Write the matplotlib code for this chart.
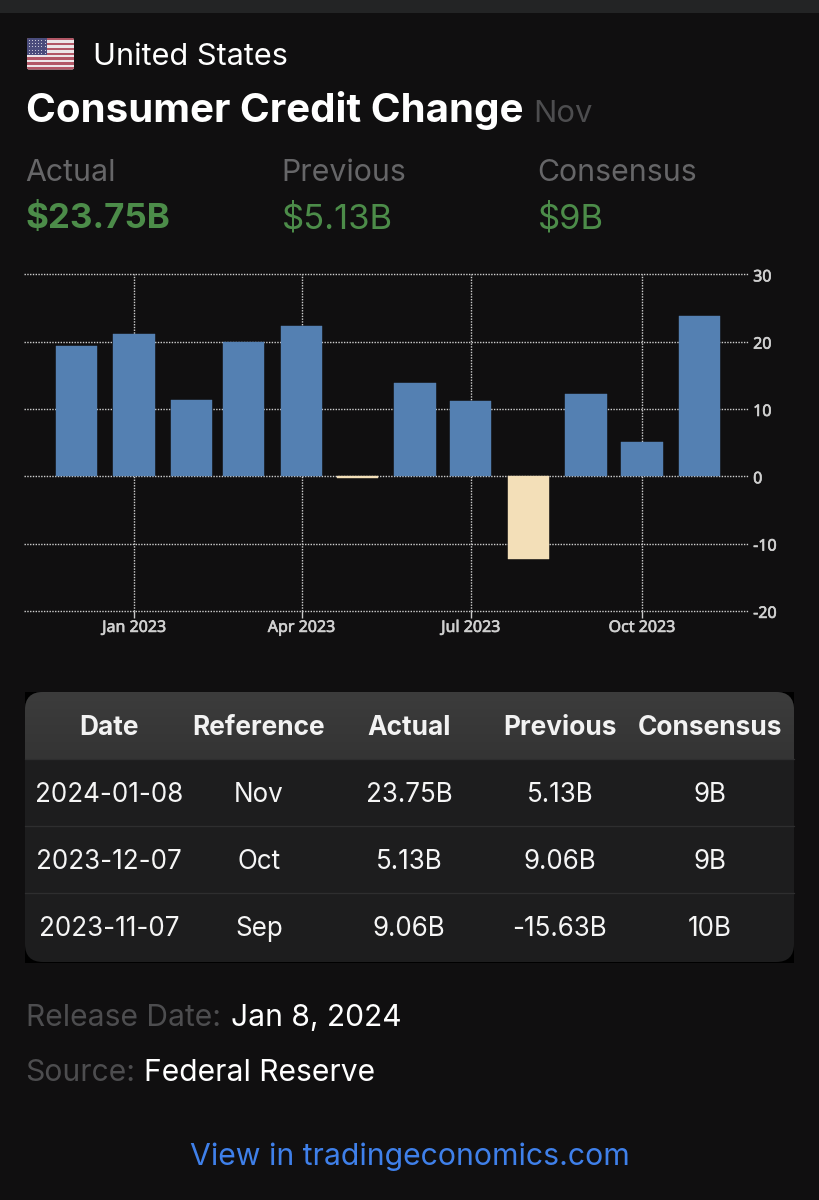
"""Consumer credit change card, dark phone screenshot style."""

import matplotlib
matplotlib.use("Agg")
import matplotlib.dates as mdates
import matplotlib.patheffects as pe
import matplotlib.pyplot as plt
import numpy as np
from matplotlib.patches import FancyBboxPatch, Rectangle
from matplotlib.transforms import ScaledTranslation

months = ["2022-12-01", "2023-01-01", "2023-02-01", "2023-03-01", "2023-04-01",
          "2023-05-01", "2023-06-01", "2023-07-01", "2023-08-01", "2023-09-01",
          "2023-10-01", "2023-11-01"]
changes = [19.4, 21.2, 11.4, 20.0, 22.4, -0.3, 13.9, 11.2, -12.3, 12.3, 5.13, 23.75]
tick_months = ["2023-01-01", "2023-04-01", "2023-07-01", "2023-10-01"]
tick_labels = ["Jan 2023", "Apr 2023", "Jul 2023", "Oct 2023"]
y_ticks = [-20, -10, 0, 10, 20, 30]

table_header = ["Date", "Reference", "Actual", "Previous", "Consensus"]
table_dates = ["2024-01-08", "2023-12-07", "2023-11-07"]
table_refs = ["Nov", "Oct", "Sep"]
table_actual = ["23.75B", "5.13B", "9.06B"]
table_previous = ["5.13B", "9.06B", "-15.63B"]
table_consensus = ["9B", "9B", "10B"]

BG = "#100f10"
W, H = 819, 1200
FONT = "Inter"

plt.rcParams["axes.unicode_minus"] = False


def px(size):
    # font size given in screen pixels
    return size * 72 / 100


fig = plt.figure(figsize=(W / 100, H / 100), dpi=100, facecolor=BG)

# page layer, in pixel coordinates
page = fig.add_axes([0, 0, 1, 1], zorder=0)
page.set_xlim(0, W)
page.set_ylim(H, 0)
page.axis("off")


def label(x, y, s, size, color="white", weight="normal", ha="left"):
    page.text(x, y, s, fontsize=px(size), color=color, fontweight=weight, ha=ha,
              va="baseline", family=FONT)


page.add_patch(Rectangle((0, 0), W, 13, color="#232425", lw=0))

# flag
flag = FancyBboxPatch((27, 38), 47, 31.5, boxstyle="round,pad=0,rounding_size=2",
                      fc="#ece6e8", ec="none")
page.add_patch(flag)
for i in range(7):
    stripe = Rectangle((27, 38 + i * 31.5 / 6.5), 47, 31.5 / 13, color="#b25766", lw=0)
    page.add_patch(stripe)
    stripe.set_clip_path(flag)
canton = Rectangle((27, 38), 20, 17, color="#4a4c7c", lw=0)
page.add_patch(canton)
canton.set_clip_path(flag)
for r in range(5):
    for c in range(6):
        page.plot(29 + c * 3.1, 40 + r * 3.2, ".", ms=1.6, mew=0, color="#d8d8e4")

label(93, 65, "United States", 30.7)
label(25.5, 122, "Consumer Credit Change", 40.3, weight="bold")
label(533, 122, "Nov", 31, color="#4d4d4f")

label(25, 181, "Actual", 30.3, color="#666668")
label(281, 181, "Previous", 30.3, color="#666668")
label(537.5, 181, "Consensus", 30.3, color="#666668")
label(25.5, 228, "$23.75B", 35, color="#4c8c49", weight="bold")
label(281.5, 228, "$5.13B", 34.6, color="#4c8c49")
label(537.5, 228, "$9B", 34.6, color="#4c8c49")

# table
page.add_patch(Rectangle((25, 692), 769, 271, color="#000000", lw=0))
card = FancyBboxPatch((25, 692), 769, 270, boxstyle="round,pad=0,rounding_size=18",
                      fc="#1d1d1e", ec="none")
page.add_patch(card)
head = page.imshow(np.linspace(0, 1, 67)[:, None], extent=(25, 794, 759, 692), aspect="auto",
                   cmap=matplotlib.colors.LinearSegmentedColormap.from_list(
                       "head", ["#3c3c3c", "#343434"]), zorder=2)
head.set_clip_path(card)
page.set_xlim(0, W)
page.set_ylim(H, 0)
for y in (759, 826, 893):
    page.plot([25, 794], [y, y], color="#2e2e2f", lw=0.9, zorder=3)

col_x = [109, 259, 409, 560, 710]
for x, s in zip(col_x, table_header):
    label(x, 735, s, 26.3, weight="bold", ha="center", color="#f2f2f2")
rows = zip(table_dates, table_refs, table_actual, table_previous, table_consensus)
for row_y, row in zip((802, 869, 936), rows):
    for x, s in zip(col_x, row):
        label(x, row_y, s, 26, ha="center", color="#f5f5f5")

label(25.5, 1026, "Release Date:", 30, color="#4d4d4f")
label(231, 1026, "Jan 8, 2024", 30)
label(25.5, 1081, "Source:", 30, color="#4d4d4f")
label(144, 1081, "Federal Reserve", 30)
label(409.5, 1165, "View in tradingeconomics.com", 30.2, color="#3f80ea", ha="center")

# chart
ax = fig.add_axes([24 / W, 1 - 610.9 / H, (749 - 24) / W, (610.9 - 274.4) / H], zorder=1)
ax.patch.set_alpha(0)
dates = mdates.datestr2num(months)
colors = ["#5480b2" if v >= 0 else "#f3dfb8" for v in changes]
ax.bar(dates, changes, width=22.2, color=colors, edgecolor=colors, linewidth=0.3, zorder=3)

jan = mdates.datestr2num("2023-01-01")
ax.set_xlim(jan - 59.2, jan + 330.6)
ax.set_ylim(-20, 30)
ax.set_xticks(mdates.datestr2num(tick_months))
ax.set_xticklabels(tick_labels)
ax.set_yticks(y_ticks)
ax.yaxis.tick_right()
ax.grid(True, color="#d0d0d0", linestyle=(0, (1, 1)), linewidth=1, zorder=0)
for line in ax.get_xgridlines() + ax.get_ygridlines():
    line.set_clip_on(False)
ax.tick_params(axis="x", length=5, width=1, color="#c8c8c8", pad=1.5)
ax.tick_params(axis="y", length=0, pad=3)
# the labels are heavier than the installed regular, so thicken them a bit
thicker = [pe.withStroke(linewidth=0.45, foreground="#d0d0d0")]
for t in ax.get_xticklabels() + ax.get_yticklabels():
    t.set_family("Noto Sans")
    t.set_fontsize(px(16))
    t.set_color("#d0d0d0")
    t.set_path_effects(thicker)
# y labels sit a little under their grid lines in the original
nudge = ScaledTranslation(0, -1.0 / 100, fig.dpi_scale_trans)
for t in ax.get_yticklabels():
    t.set_transform(t.get_transform() + nudge)
for spine in ax.spines.values():
    spine.set_visible(False)

fig.savefig("out.png", dpi=100, facecolor=BG)
